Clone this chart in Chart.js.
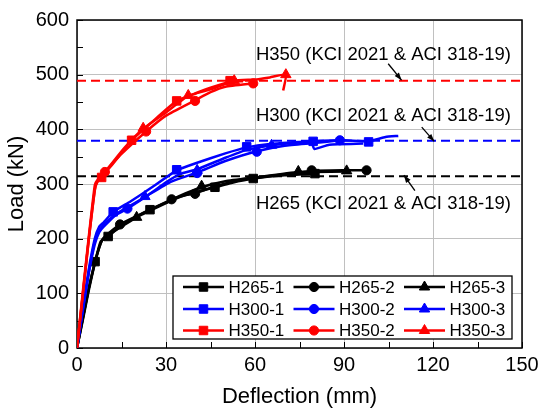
<!DOCTYPE html>
<html>
<head>
<meta charset="utf-8">
<script src="https://cdn.jsdelivr.net/npm/chart.js@4.4.0/dist/chart.umd.min.js"></script>
<style>
  html, body { margin: 0; padding: 0; background: #fff; }
</style>
</head>
<body>
<canvas id="chart" width="549" height="418"></canvas>
<script>
// axis ranges / ticks
var xTicks = [0, 30, 60, 90, 120, 150];
var yTicks = [0, 100, 200, 300, 400, 500, 600];

// design strengths (KCI 2021 & ACI 318-19)
var designNames = ['H265 (KCI 2021 & ACI 318-19)', 'H300 (KCI 2021 & ACI 318-19)', 'H350 (KCI 2021 & ACI 318-19)'];
var designLoads = [314, 379, 489];

var seriesNames = ['H265-1', 'H265-2', 'H265-3', 'H300-1', 'H300-2', 'H300-3', 'H350-1', 'H350-2', 'H350-3'];

// load-deflection curves (mm, kN)
var h265_1_x = [0, 2, 4, 6.1, 8, 10.5, 15, 20, 24.6, 30, 35, 40, 46.5, 52, 59.4, 70, 80.2];
var h265_1_y = [0, 55, 110, 158, 195, 204, 224, 240, 253, 266, 277, 285, 294, 302, 310, 316, 319];
var h265_2_x = [0, 2, 4, 6.5, 8.5, 10, 14.5, 20, 25, 31.9, 36, 39.8, 45, 50, 55, 60, 70, 79.1, 90, 97.6];
var h265_2_y = [0, 52, 106, 165, 198, 207, 226, 241, 254, 272, 279, 283, 293, 301, 307, 311, 318, 324, 325, 325];
var h265_3_x = [0, 2, 4, 6.3, 8.3, 10, 15, 20.1, 25, 30, 35, 42, 50, 60, 74.6, 80, 90.9];
var h265_3_y = [0, 56, 110, 162, 196, 205, 222, 239, 252, 265, 279, 294, 305, 312, 322, 322, 323];

var h300_1_x = [0, 2, 4, 6, 7.5, 9, 12.2, 18, 25, 33.6, 40, 50, 57.2, 65, 79.6, 90, 98.3, 104, 108.3];
var h300_1_y = [0, 75, 145, 200, 222, 230, 249, 268, 293, 325, 338, 356, 367, 373, 378, 380, 378, 386, 388];
var h300_2_x = [0, 2, 4, 6, 7.5, 9, 12, 17, 25, 32, 40.5, 50, 60.6, 70, 80, 88.6];
var h300_2_y = [0, 72, 140, 195, 215, 225, 240, 255, 283, 305, 321, 342, 360, 370, 375, 380];
var h300_3_x = [0, 2, 4, 6, 7.5, 9, 14, 22.9, 30, 34.7, 40.5, 50, 57, 65.6, 75, 79, 80, 85, 96.5];
var h300_3_y = [0, 70, 138, 190, 212, 222, 248, 276, 303, 318, 327, 348, 362, 371, 376, 377, 364, 372, 374];

var h350_1_x = [0, 2, 4, 6, 7, 8.3, 12, 18.4, 25, 33.6, 40, 45, 51.6, 56];
var h350_1_y = [0, 100, 200, 290, 305, 313, 336, 380, 412, 452, 466, 476, 487, 488];
var h350_2_x = [0, 2, 4, 6.2, 7.5, 9.4, 15, 23.3, 30, 39.8, 45, 50, 59.4];
var h350_2_y = [0, 100, 200, 295, 310, 322, 355, 396, 425, 453, 468, 478, 484];
var h350_3_x = [0, 2, 4, 6, 7, 10, 16, 22.3, 30, 37.5, 45, 53, 60, 65, 70.4, 69.5];
var h350_3_y = [0, 105, 205, 298, 308, 326, 366, 401, 431, 461, 473, 489, 491, 495, 500, 471];

// marker positions
var h265_1_mx = [6.1, 10.5, 24.6, 46.5, 59.4, 80.2];
var h265_1_my = [158, 204, 253, 294, 310, 319];
var h265_2_mx = [14.5, 31.9, 39.8, 79.1, 97.6];
var h265_2_my = [226, 272, 282, 325, 325];
var h265_3_mx = [20.1, 42, 74.6, 90.9];
var h265_3_my = [239, 296, 323, 324];
var h300_1_mx = [12.2, 33.6, 57.2, 79.6, 98.3];
var h300_1_my = [249, 326, 368, 378, 377];
var h300_2_mx = [17, 40.5, 60.6, 88.6];
var h300_2_my = [255, 320, 359, 380];
var h300_3_mx = [22.9, 40.5, 65.6];
var h300_3_my = [277, 325, 371];
var h350_1_mx = [8.3, 18.4, 33.6, 51.6];
var h350_1_my = [312, 380, 452, 489];
var h350_2_mx = [9.4, 23.3, 39.8, 59.4];
var h350_2_my = [322, 396, 452, 484];
var h350_3_mx = [22.3, 37.5, 53, 70.4];
var h350_3_my = [402, 462, 489, 500];

var FONT = "'Liberation Sans', Arial, sans-serif";
var colors = ['#000000', '#0000ff', '#ff0000'];
var styles = ['rect', 'circle', 'triangle'];

function pts(xs, ys) {
    return xs.map(function (x, i) { return {x: x, y: ys[i]}; });
}

var curves = [
    [h265_1_x, h265_1_y, h265_1_mx, h265_1_my],
    [h265_2_x, h265_2_y, h265_2_mx, h265_2_my],
    [h265_3_x, h265_3_y, h265_3_mx, h265_3_my],
    [h300_1_x, h300_1_y, h300_1_mx, h300_1_my],
    [h300_2_x, h300_2_y, h300_2_mx, h300_2_my],
    [h300_3_x, h300_3_y, h300_3_mx, h300_3_my],
    [h350_1_x, h350_1_y, h350_1_mx, h350_1_my],
    [h350_2_x, h350_2_y, h350_2_mx, h350_2_my],
    [h350_3_x, h350_3_y, h350_3_mx, h350_3_my]
];

function markerRadius(style) {
    return style == 'triangle' ? 6 : (style == 'rect' ? 6 : 4.6);
}

var datasets = [];
curves.forEach(function (c, i) {
    var group = Math.floor(i / 3);
    var col = colors[group];
    var st = styles[i % 3];
    datasets.push({
        label: seriesNames[i],
        data: pts(c[0], c[1]),
        borderColor: col,
        borderWidth: 2.5,
        pointRadius: 0,
        tension: 0.15,
        fill: false,
        order: 40 - group * 10 + 1
    });
    datasets.push({
        label: seriesNames[i] + ' marks',
        data: pts(c[2], c[3]),
        showLine: false,
        pointStyle: st,
        pointRadius: markerRadius(st),
        pointBackgroundColor: col,
        pointBorderColor: col,
        pointBorderWidth: 1,
        order: 40 - group * 10
    });
});

designLoads.forEach(function (v, i) {
    datasets.push({
        label: designNames[i],
        data: [{x: xTicks[0], y: v}, {x: xTicks[xTicks.length - 1], y: v}],
        borderColor: colors[i],
        borderWidth: 2,
        borderDash: [9, 5],
        pointRadius: 0,
        order: 100
    });
});

// inward ticks + black frame
var framePlugin = {
    id: 'frame',
    beforeDatasetsDraw: function (chart) {
        var ctx = chart.ctx, a = chart.chartArea;
        var xs = chart.scales.x, ys = chart.scales.y;
        ctx.save();
        ctx.strokeStyle = '#000';
        ctx.lineWidth = 1;
        for (var v = 0; v <= 150; v += 15) {
            var px = Math.round(xs.getPixelForValue(v)) + 0.5;
            ctx.beginPath(); ctx.moveTo(px, a.bottom); ctx.lineTo(px, a.bottom - 6); ctx.stroke();
        }
        for (var w = 0; w <= 600; w += 50) {
            var py = Math.round(ys.getPixelForValue(w)) + 0.5;
            ctx.beginPath(); ctx.moveTo(a.left, py); ctx.lineTo(a.left + 6, py); ctx.stroke();
        }
        ctx.lineWidth = 1.5;
        ctx.strokeRect(a.left, a.top, a.right - a.left, a.bottom - a.top);
        ctx.restore();
    }
};

// design strength labels with arrows
var notePos = [
    {tx: 60.3, ty: 264, ax1: 113.9, ay1: 288, ax2: 110.2, ay2: 316},
    {tx: 60.3, ty: 425, ax1: 116.2, ay1: 404, ax2: 120.4, ay2: 378},
    {tx: 60.3, ty: 537, ax1: 104.9, ay1: 520, ax2: 109.4, ay2: 490}
];
var notePlugin = {
    id: 'notes',
    afterDatasetsDraw: function (chart) {
        var ctx = chart.ctx, xs = chart.scales.x, ys = chart.scales.y;
        ctx.save();
        ctx.font = '18.5px ' + FONT;
        ctx.fillStyle = '#000';
        ctx.textBaseline = 'middle';
        notePos.forEach(function (n, i) {
            ctx.fillText(designNames[i], xs.getPixelForValue(n.tx), ys.getPixelForValue(n.ty));
            var x1 = xs.getPixelForValue(n.ax1), y1 = ys.getPixelForValue(n.ay1);
            var x2 = xs.getPixelForValue(n.ax2), y2 = ys.getPixelForValue(n.ay2);
            var ang = Math.atan2(y2 - y1, x2 - x1);
            ctx.strokeStyle = '#000';
            ctx.lineWidth = 1.3;
            ctx.beginPath(); ctx.moveTo(x1, y1); ctx.lineTo(x2, y2); ctx.stroke();
            ctx.beginPath();
            ctx.moveTo(x2, y2);
            ctx.lineTo(x2 - 8 * Math.cos(ang - 0.35), y2 - 8 * Math.sin(ang - 0.35));
            ctx.lineTo(x2 - 8 * Math.cos(ang + 0.35), y2 - 8 * Math.sin(ang + 0.35));
            ctx.closePath();
            ctx.fill();
        });
        ctx.restore();
    }
};

// boxed 3x3 legend
var legendPlugin = {
    id: 'boxLegend',
    afterDatasetsDraw: function (chart) {
        var ctx = chart.ctx;
        var left = 173, top = 276, right = 512, bottom = 339;
        var colX = [183, 293.5, 404];
        var rowY = [287, 309, 330.5];
        ctx.save();
        ctx.fillStyle = '#fff';
        ctx.fillRect(left, top, right - left, bottom - top);
        ctx.strokeStyle = '#000';
        ctx.lineWidth = 1.3;
        ctx.strokeRect(left, top, right - left, bottom - top);
        ctx.font = '17px ' + FONT;
        ctx.textBaseline = 'middle';
        for (var i = 0; i < 9; i++) {
            var r = Math.floor(i / 3), c = i % 3;
            var x = colX[c], y = rowY[r];
            var st = styles[c];
            ctx.strokeStyle = colors[r];
            ctx.fillStyle = colors[r];
            ctx.lineWidth = 2.5;
            ctx.beginPath(); ctx.moveTo(x, y); ctx.lineTo(x + 41, y); ctx.stroke();
            ctx.lineWidth = 1;
            Chart.helpers.drawPoint(ctx, {pointStyle: st, radius: markerRadius(st), borderWidth: 1, rotation: 0}, x + 20.5, y);
            ctx.fillStyle = '#000';
            ctx.fillText(seriesNames[i], x + 45.5, y + 1);
        }
        ctx.restore();
    }
};

new Chart(document.getElementById('chart').getContext('2d'), {
    type: 'line',
    data: {datasets: datasets},
    options: {
        responsive: false,
        animation: false,
        devicePixelRatio: 1,
        layout: {padding: {left: 0, right: 27, top: 19, bottom: 0}},
        plugins: {legend: {display: false}, tooltip: {enabled: false}},
        scales: {
            x: {
                type: 'linear',
                min: xTicks[0],
                max: xTicks[xTicks.length - 1],
                afterBuildTicks: function (s) { s.ticks = xTicks.map(function (v) { return {value: v}; }); },
                ticks: {font: {family: FONT, size: 20}, color: '#000', padding: 5, maxRotation: 0},
                grid: {color: '#c0c0c0', drawTicks: false, lineWidth: 1},
                border: {display: false},
                title: {display: true, text: 'Deflection (mm)', color: '#000', font: {family: FONT, size: 22}, padding: {top: 0, bottom: 8}},
                afterFit: function (s) { s.height = 70; }
            },
            y: {
                type: 'linear',
                min: yTicks[0],
                max: yTicks[yTicks.length - 1],
                afterBuildTicks: function (s) { s.ticks = yTicks.map(function (v) { return {value: v}; }); },
                ticks: {font: {family: FONT, size: 20}, color: '#000', padding: 8},
                grid: {color: '#c0c0c0', drawTicks: false, lineWidth: 1},
                border: {display: false},
                title: {display: true, text: 'Load (kN)', color: '#000', font: {family: FONT, size: 22}, padding: {top: 4, bottom: 0}},
                afterFit: function (s) { s.width = 77; }
            }
        }
    },
    plugins: [framePlugin, notePlugin, legendPlugin]
});
</script>
</body>
</html>
